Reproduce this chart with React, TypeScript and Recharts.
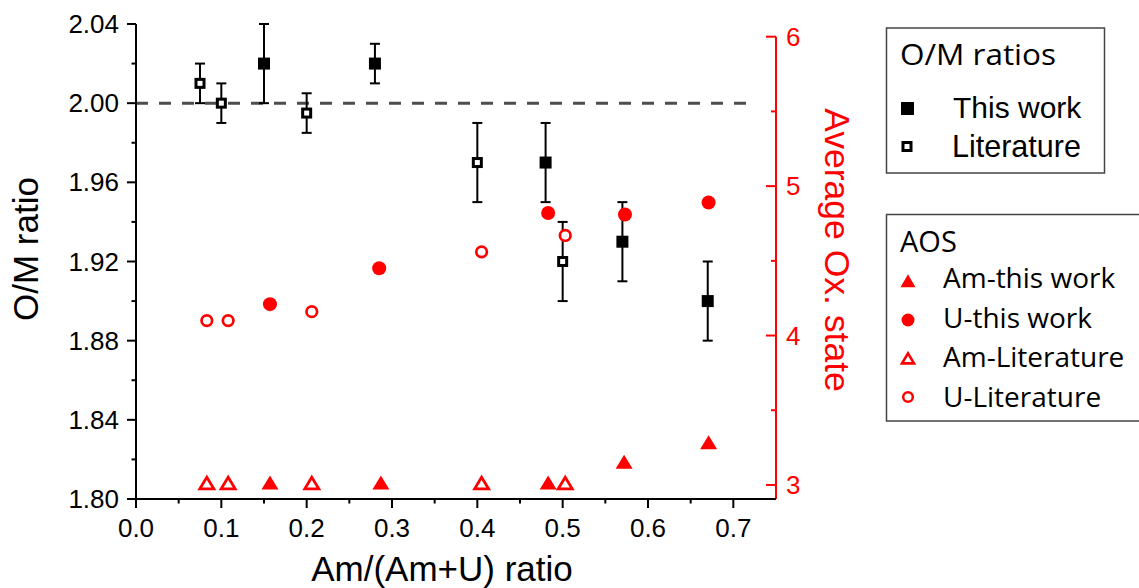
import {
  ErrorBar,
  Label,
  Legend,
  ReferenceLine,
  Scatter,
  ScatterChart,
  XAxis,
  YAxis,
} from "recharts";

const xTicks = [0, 0.05, 0.1, 0.15, 0.2, 0.25, 0.3, 0.35, 0.4, 0.45, 0.5, 0.55, 0.6, 0.65, 0.7];
const omTicks = [1.8, 1.82, 1.84, 1.86, 1.88, 1.9, 1.92, 1.94, 1.96, 1.98, 2.0, 2.02, 2.04];
const aosTicks = [3, 3.5, 4, 4.5, 5, 5.5, 6];

// O/M ratios (left axis)
const omWorkX = [0.15, 0.28, 0.48, 0.57, 0.67];
const omWorkY = [2.02, 2.02, 1.97, 1.93, 1.9];
const omWorkErr = [0.02, 0.01, 0.02, 0.02, 0.02];

const omLitX = [0.075, 0.1, 0.2, 0.4, 0.5];
const omLitY = [2.01, 2.0, 1.995, 1.97, 1.92];
const omLitErr = [0.01, 0.01, 0.01, 0.02, 0.02];

// average oxidation state (right axis)
const amWorkX = [0.157, 0.287, 0.483, 0.572, 0.671];
const amWorkY = [3.0, 3.0, 3.0, 3.14, 3.27];
const uWorkX = [0.157, 0.285, 0.483, 0.573, 0.671];
const uWorkY = [4.21, 4.45, 4.82, 4.81, 4.89];
const amLitX = [0.083, 0.108, 0.206, 0.405, 0.503];
const amLitY = [3.0, 3.0, 3.0, 3.0, 3.0];
const uLitX = [0.083, 0.108, 0.206, 0.405, 0.503];
const uLitY = [4.1, 4.1, 4.16, 4.56, 4.67];

const RED = "#ff0000";
const AXIS_FONT = "'Liberation Sans', Arial, sans-serif";
const LEGEND_FONT = "'Open Sans', sans-serif";
const AOS_MIN = 2.906;
const AOS_MAX = 6.085;
const TICK_FS = 26;

const pts = (xs: number[], ys: number[], errs?: number[]) =>
  xs.map((x, i) => ({ x, y: ys[i], err: errs ? errs[i] : 0 }));

function FilledSquare({ cx, cy }: any) {
  return <rect x={cx - 6} y={cy - 6} width={12} height={12} fill="#000" />;
}
function OpenSquare({ cx, cy }: any) {
  return <rect x={cx - 4} y={cy - 4} width={8} height={8} fill="#fff" stroke="#000" strokeWidth={3} />;
}
function FilledCircle({ cx, cy }: any) {
  return <circle cx={cx} cy={cy} r={7} fill={RED} />;
}
function OpenCircle({ cx, cy }: any) {
  return <circle cx={cx} cy={cy} r={5.3} fill="#fff" stroke={RED} strokeWidth={2.7} />;
}
function triPath(cx: number, cy: number, w: number, h: number) {
  return `M${cx},${cy - (2 * h) / 3} L${cx + w / 2},${cy + h / 3} L${cx - w / 2},${cy + h / 3} Z`;
}
function FilledTriangle({ cx, cy }: any) {
  return <path d={triPath(cx, cy, 17, 14)} fill={RED} />;
}
function OpenTriangle({ cx, cy }: any) {
  return <path d={triPath(cx, cy, 14, 11.5)} fill="#fff" stroke={RED} strokeWidth={2.8} />;
}

function LeftTick({ x, y, payload }: any) {
  const v = payload.value;
  const major = Math.round(v * 100) % 4 === 0;
  return (
    <g>
      <line x1={x - (major ? 9 : 4.5)} x2={x} y1={y} y2={y} stroke="#000" strokeWidth={2} />
      {major && (
        <text x={x - 17} y={y + 9} textAnchor="end" fontSize={TICK_FS} fontFamily={AXIS_FONT} fill="#000">
          {v.toFixed(2)}
        </text>
      )}
    </g>
  );
}

function BottomTick({ x, y, payload }: any) {
  const v = payload.value;
  const major = Math.round(v * 100) % 10 === 0;
  return (
    <g>
      <line x1={x} x2={x} y1={y} y2={y + (major ? 9 : 4.5)} stroke="#000" strokeWidth={2} />
      {major && (
        <text x={x} y={y + 38} textAnchor="middle" fontSize={TICK_FS} fontFamily={AXIS_FONT} fill="#000">
          {v.toFixed(1)}
        </text>
      )}
    </g>
  );
}

function RightTick({ x, y, payload }: any) {
  const v = payload.value;
  const major = Number.isInteger(v);
  return (
    <g>
      <line x1={x - (major ? 10 : 5)} x2={x} y1={y} y2={y} stroke={RED} strokeWidth={2} />
      {major && (
        <text x={x + 10} y={y + 9} textAnchor="start" fontSize={TICK_FS} fontFamily={AXIS_FONT} fill={RED}>
          {v}
        </text>
      )}
    </g>
  );
}

function LegendBoxes() {
  return (
    <svg width={259} height={420} style={{ display: "block" }}>
      <g transform="translate(-880,-20)">
        <rect x={886.5} y={28} width={218} height={145} fill="#fff" stroke="#444" strokeWidth={1.5} />
        <text
          x={900}
          y={65}
          fontSize={29}
          fontFamily={LEGEND_FONT}
          fill="#000"
          textLength={156}
          lengthAdjust="spacingAndGlyphs"
        >
          O/M ratios
        </text>
        <rect x={901} y={102} width={13} height={13} fill="#000" />
        <text x={953} y={118} fontSize={30} fontFamily={AXIS_FONT} fill="#000">This work</text>
        <rect x={903} y={142.5} width={8} height={8} fill="#fff" stroke="#000" strokeWidth={3} />
        <text x={952} y={157} fontSize={30.5} fontFamily={AXIS_FONT} fill="#000">Literature</text>

        <path d="M1145,214.5 L886.5,214.5 L886.5,421 L1145,421" fill="#fff" stroke="#444" strokeWidth={1.5} />
        <text x={900} y={252} fontSize={29} fontFamily={LEGEND_FONT} fill="#000">AOS</text>
        <path d={triPath(908, 283, 15, 13)} fill={RED} />
        <text x={943} y={288} fontSize={28} fontFamily={LEGEND_FONT} fill="#000">Am-this work</text>
        <circle cx={908} cy={320} r={6.5} fill={RED} />
        <text x={943} y={328} fontSize={28} fontFamily={LEGEND_FONT} fill="#000">U-this work</text>
        <path d={triPath(908, 360, 12, 10)} fill="#fff" stroke={RED} strokeWidth={2.6} />
        <text x={943} y={367} fontSize={28} fontFamily={LEGEND_FONT} fill="#000">Am-Literature</text>
        <circle cx={908} cy={397} r={4.8} fill="#fff" stroke={RED} strokeWidth={2.5} />
        <text x={943} y={407} fontSize={28} fontFamily={LEGEND_FONT} fill="#000">U-Literature</text>
      </g>
    </svg>
  );
}

export default function App() {
  return (
    <div style={{ position: "absolute", left: 0, top: 0, width: 1139, height: 588, background: "#fff" }}>
      <ScatterChart width={1139} height={588} margin={{ top: 24, right: 293, left: 36, bottom: 29 }}>
        <XAxis
          type="number"
          dataKey="x"
          domain={[0, 0.75]}
          ticks={xTicks}
          interval={0}
          tickSize={0}
          tickMargin={0}
          height={60}
          tickLine={false}
          tick={<BottomTick />}
          axisLine={{ stroke: "#000", strokeWidth: 2 }}
          allowDataOverflow
        >
          <Label
            content={() => (
              <text x={442} y={581} textAnchor="middle" fontSize={35} fontFamily={AXIS_FONT} fill="#000">
                Am/(Am+U) ratio
              </text>
            )}
          />
        </XAxis>
        <YAxis
          yAxisId="left"
          type="number"
          dataKey="y"
          domain={[1.8, 2.04]}
          ticks={omTicks}
          interval={0}
          tickSize={0}
          tickMargin={0}
          width={100}
          tickLine={false}
          tick={<LeftTick />}
          axisLine={{ stroke: "#000", strokeWidth: 2 }}
          allowDataOverflow
        >
          <Label
            content={() => (
              <text
                x={38}
                y={249}
                transform="rotate(-90, 38, 249)"
                textAnchor="middle"
                fontSize={35}
                fontFamily={AXIS_FONT}
                fill="#000"
              >
                O/M ratio
              </text>
            )}
          />
        </YAxis>
        <YAxis
          yAxisId="right"
          orientation="right"
          type="number"
          dataKey="y"
          domain={[AOS_MIN, AOS_MAX]}
          ticks={aosTicks}
          interval={0}
          tickSize={0}
          tickMargin={0}
          width={70}
          tickLine={false}
          tick={<RightTick />}
          axisLine={false}
          allowDataOverflow
        >
          <Label
            content={() => (
              <text
                x={825}
                y={250}
                transform="rotate(90, 825, 250)"
                textAnchor="middle"
                fontSize={35.5}
                fontFamily={AXIS_FONT}
                fill={RED}
              >
                Average Ox. state
              </text>
            )}
          />
        </YAxis>

        <ReferenceLine
          yAxisId="right"
          segment={[
            { x: 0.75, y: AOS_MIN },
            { x: 0.75, y: 6 },
          ]}
          stroke={RED}
          strokeWidth={2}
          ifOverflow="visible"
        />
        <ReferenceLine
          yAxisId="left"
          segment={[
            { x: 0, y: 2.0 },
            { x: 0.715, y: 2.0 },
          ]}
          stroke="#4d4d4d"
          strokeWidth={3}
          strokeDasharray="12 11"
          ifOverflow="visible"
        />

        <Scatter name="This work" yAxisId="left" data={pts(omWorkX, omWorkY, omWorkErr)} shape={<FilledSquare />} isAnimationActive={false}>
          <ErrorBar dataKey="err" direction="y" width={5} stroke="#000" strokeWidth={2} isAnimationActive={false} />
        </Scatter>
        <Scatter name="Literature" yAxisId="left" data={pts(omLitX, omLitY, omLitErr)} shape={<OpenSquare />} isAnimationActive={false}>
          <ErrorBar dataKey="err" direction="y" width={5} stroke="#000" strokeWidth={2} isAnimationActive={false} />
        </Scatter>
        <Scatter name="Am-this work" yAxisId="right" data={pts(amWorkX, amWorkY)} shape={<FilledTriangle />} isAnimationActive={false} />
        <Scatter name="U-this work" yAxisId="right" data={pts(uWorkX, uWorkY)} shape={<FilledCircle />} isAnimationActive={false} />
        <Scatter name="Am-Literature" yAxisId="right" data={pts(amLitX, amLitY)} shape={<OpenTriangle />} isAnimationActive={false} />
        <Scatter name="U-Literature" yAxisId="right" data={pts(uLitX, uLitY)} shape={<OpenCircle />} isAnimationActive={false} />

        <Legend
          layout="vertical"
          align="center"
          verticalAlign="middle"
          content={() => <LegendBoxes />}
          wrapperStyle={{ left: 880, top: 20, width: 259, height: 420, right: "auto", bottom: "auto" }}
        />
      </ScatterChart>
    </div>
  );
}
